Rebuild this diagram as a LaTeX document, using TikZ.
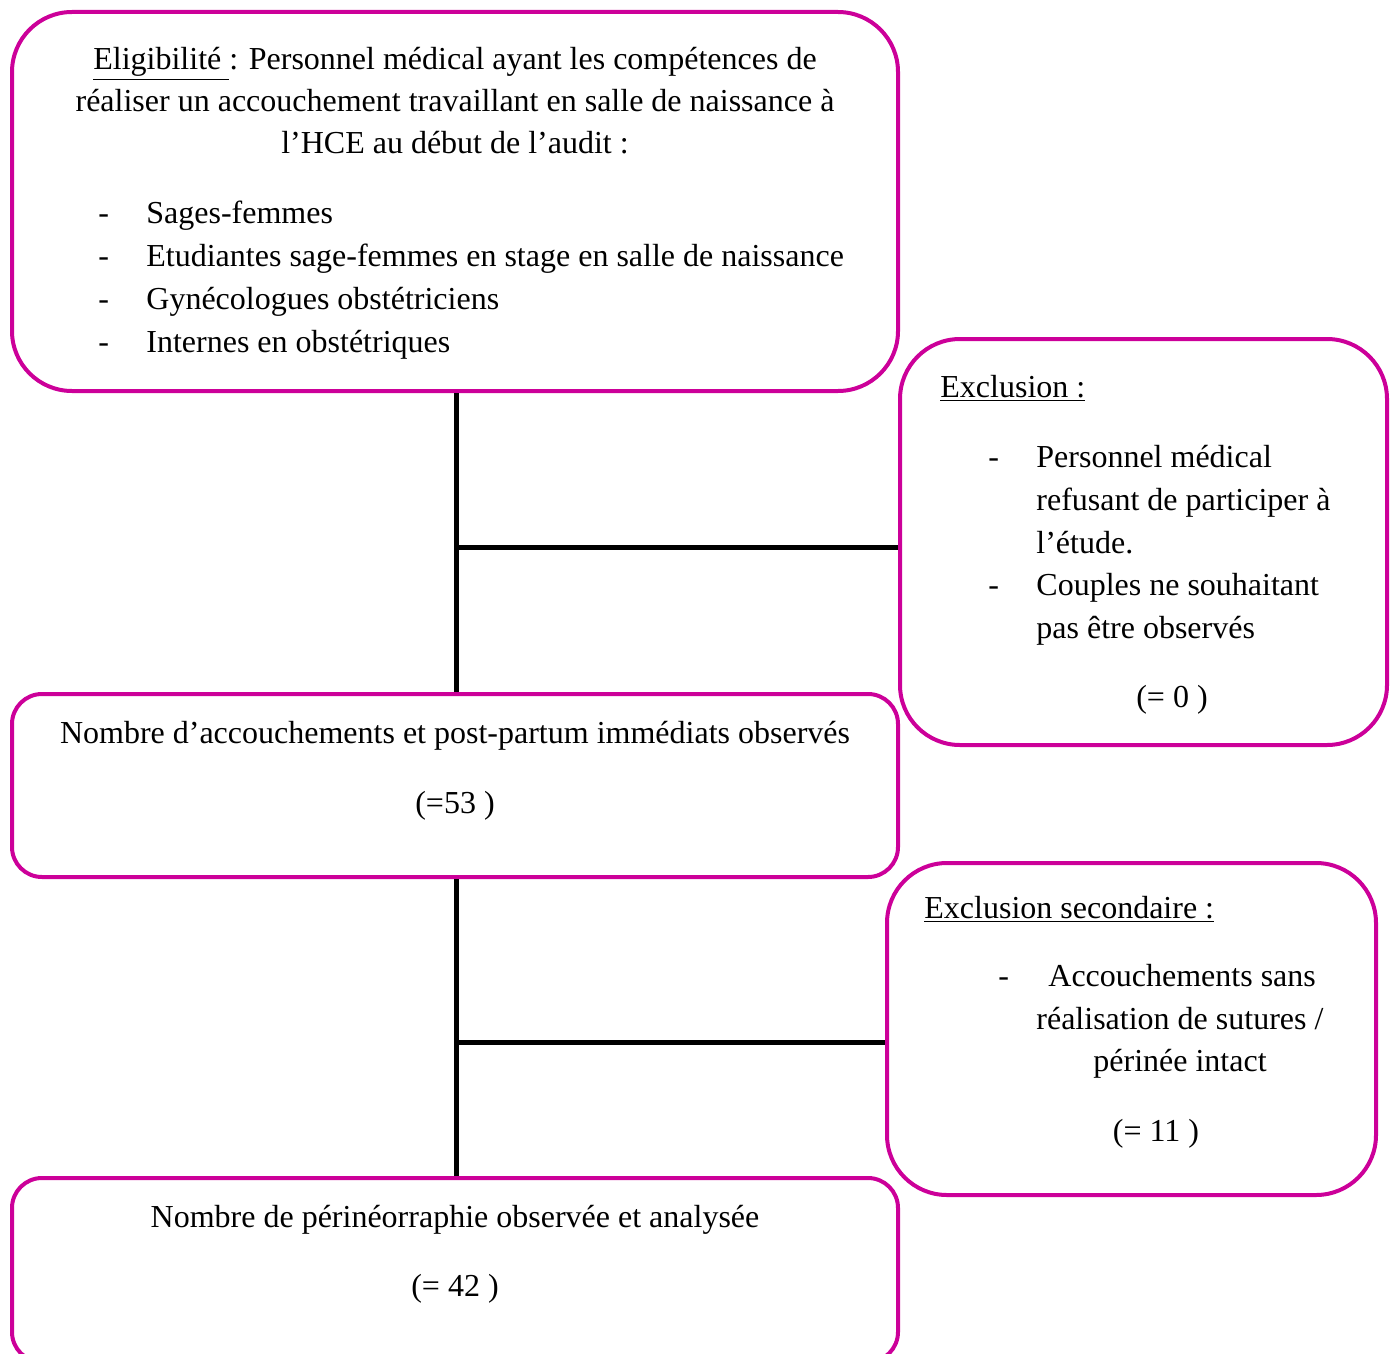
\documentclass[tikz,border=0pt]{standalone}
\usepackage{fontspec}
\setmainfont{Liberation Serif}
\definecolor{boxmag}{HTML}{CC0099}
\begin{document}
\begin{tikzpicture}[x=0.5pt,y=-0.5pt,
  box/.style={draw=boxmag, line width=2pt, fill=none, inner sep=0pt},
  conn/.style={draw=black, line width=2.5pt},
  txt/.style={inner sep=0pt, font=\fontsize{16}{19}\selectfont},
  lt/.style={txt, anchor=base west},
  ct/.style={txt, anchor=base}]
\clip (0,0) rectangle (1397,1354);
\useasboundingbox (0,0) rectangle (1397,1354);
% boxes
\node[box, rounded corners=30pt, minimum width=443pt, minimum height=189.5pt] (elig) at (455,201.5) {};
\node[box, rounded corners=30pt, minimum width=243.5pt, minimum height=203pt] (excl) at (1143.5,542) {};
\node[box, rounded corners=15pt, minimum width=443pt, minimum height=91.5pt] (obs) at (455,785.5) {};
\node[box, rounded corners=30pt, minimum width=244.5pt, minimum height=166pt] (excl2) at (1131.5,1029) {};
\node[box, rounded corners=15pt, minimum width=443pt, minimum height=92pt] (ana) at (455,1270) {};
% connectors
\coordinate (j1) at (456,547);
\coordinate (j2) at (456,1042);
\draw[conn] (elig.south -| j1) -- (obs.north -| j1);
\draw[conn] (j1) -- (excl.west |- j1);
\draw[conn] (obs.south -| j2) -- (ana.north -| j2);
\draw[conn] (j2) -- (excl2.west |- j2);
% texts top box
\node[ct] (t1) at (455,70) {\underline{Eligibilité\ }: Personnel médical ayant les compétences de};
\node[ct] (t2) at (455,112) {réaliser un accouchement travaillant en salle de naissance à};
\node[ct] (t3) at (455,154) {l’HCE au début de l’audit :};
\node[lt] (d1) at (98,223) {-};
\node[lt] (b1) at (146,223) {Sages-femmes};
\node[lt] (d2) at (98,266) {-};
\node[lt] (b2) at (146,266) {Etudiantes sage-femmes en stage en salle de naissance};
\node[lt] (d3) at (98,309) {-};
\node[lt] (b3) at (146,309) {Gynécologues obstétriciens};
\node[lt] (d4) at (98,352) {-};
\node[lt] (b4) at (146,352) {Internes en obstétriques};
% exclusion
\node[lt] (e0) at (940,397) {\underline{Exclusion :}};
\node[lt] (ed1) at (988,467) {-};
\node[lt] (e1) at (1036,467) {Personnel médical};
\node[lt] (e2) at (1036,510) {refusant de participer à};
\node[lt] (e3) at (1036,553) {l’étude.};
\node[lt] (ed2) at (988,595) {-};
\node[lt] (e4) at (1036,595) {Couples ne souhaitant};
\node[lt] (e5) at (1036,638) {pas être observés};
\node[ct] (e6) at (1172,707) {(= 0 )};
% observed
\node[ct] (o1) at (455,743) {Nombre d’accouchements et post-partum immédiats observés};
\node[ct] (o2) at (455,813) {(=53 )};
% exclusion secondaire
\node[lt] (s0) at (924,918) {\underline{Exclusion secondaire :}};
\node[lt] (sd1) at (998,986) {-};
\node[lt] (s1) at (1048,986) {Accouchements sans};
\node[lt] (s2) at (1036,1029) {réalisation de sutures /};
\node[ct] (s3) at (1180,1071) {périnée intact};
\node[ct] (s4) at (1156,1141) {(= 11 )};
% analysed
\node[ct] (a1) at (455,1227) {Nombre de périnéorraphie observée et analysée};
\node[ct] (a2) at (455,1296) {(= 42 )};
\end{tikzpicture}
\end{document}
